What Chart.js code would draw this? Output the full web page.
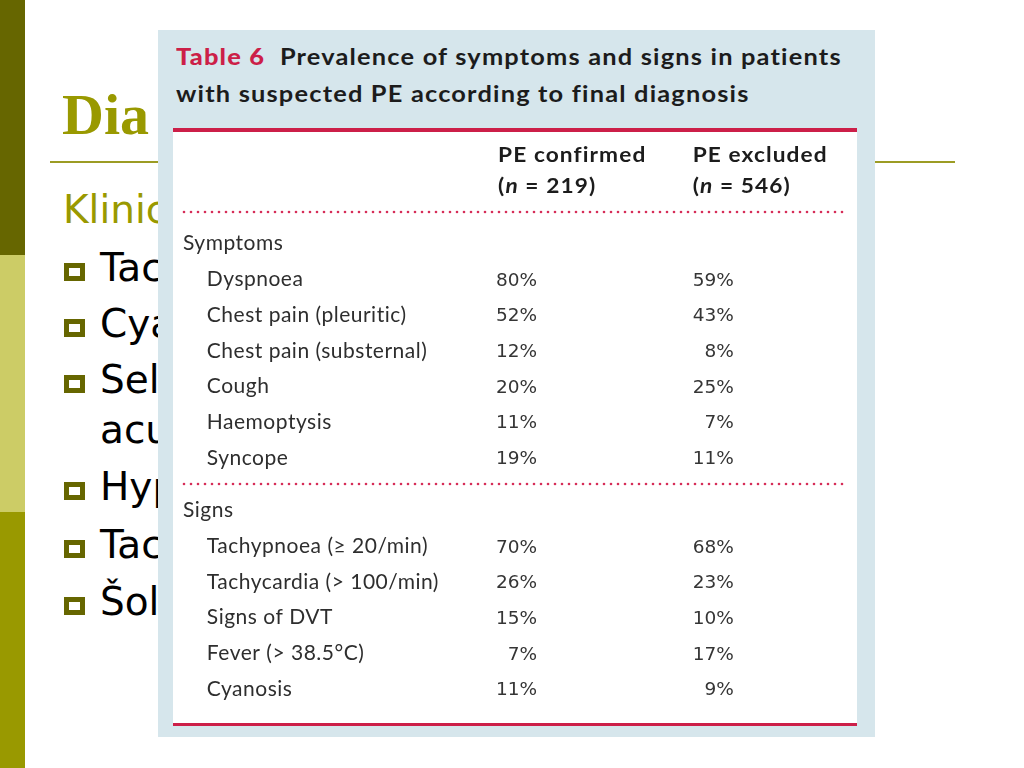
<!DOCTYPE html>
<html>
<head>
<meta charset="utf-8">
<script src="https://cdn.jsdelivr.net/npm/chart.js@4.4.0/dist/chart.umd.min.js"></script>
<style>
  body { margin: 0; width: 1024px; height: 768px; position: relative; overflow: hidden; background: #fff; }
  .abs { position: absolute; }
  #slideText { position: absolute; left: 0; top: 0; width: 158px; height: 768px; overflow: hidden; z-index: 1; }
  .bul { position: absolute; left: 100px; font: 39px "DejaVu Sans"; line-height: 39px; color: #000; white-space: nowrap; }
  .sq { position: absolute; left: 64px; width: 21px; height: 18px; border: 5px solid #666600; box-sizing: border-box; }
  #box { left: 158px; top: 30px; width: 717px; height: 707px; background: #d6e6ec; z-index: 2; }
  .ttl { position: absolute; left: 176px; font: bold 23.5px Lato; line-height: 23.5px; color: #1c1c1c; white-space: nowrap;
         letter-spacing: 1.1px; transform: scaleX(1.08); transform-origin: 0 0; z-index: 3; }
  .ttl b { color: #cc1f48; }
  #panel { left: 173px; top: 128px; width: 684px; height: 598px; background: #fff; box-sizing: border-box;
           border-top: 4px solid #cc1f48; border-bottom: 3px solid #cc1f48; z-index: 3; }
  canvas { position: absolute; left: 173px; z-index: 4; }
</style>
</head>
<body>
<div class="abs" style="left:0;top:0;width:25px;height:255px;background:#666600"></div>
<div class="abs" style="left:0;top:255px;width:25px;height:257px;background:#cccc66"></div>
<div class="abs" style="left:0;top:512px;width:25px;height:256px;background:#999900"></div>
<div class="abs" style="left:50px;top:161px;width:905px;height:2px;background:#9c9c24"></div>

<div id="slideText">
  <div class="abs" style="left:62px;top:86px;font:bold 58px 'Liberation Serif';line-height:58px;color:#999900;white-space:nowrap">Dia</div>
  <div class="abs" style="left:63px;top:190px;font:39px 'DejaVu Sans';line-height:39px;color:#999900;white-space:nowrap">Klinic</div>
  <div class="sq" style="top:263px"></div><div class="bul" style="top:248px">Tac</div>
  <div class="sq" style="top:319px"></div><div class="bul" style="top:304px">Cya</div>
  <div class="sq" style="top:375px"></div><div class="bul" style="top:360px">Sel</div>
  <div class="bul" style="top:410px">acu</div>
  <div class="sq" style="top:482px"></div><div class="bul" style="top:467px">Hyp</div>
  <div class="sq" style="top:540px"></div><div class="bul" style="top:525px">Tac</div>
  <div class="sq" style="top:597px"></div><div class="bul" style="top:582px">Šol</div>
</div>

<div id="box" class="abs"></div>
<div class="ttl" style="top:45px"><b>Table 6</b>&nbsp; Prevalence of symptoms and signs in patients</div>
<div class="ttl" style="top:82px">with suspected PE according to final diagnosis</div>
<div id="panel" class="abs"></div>

<canvas id="symptoms" width="684" height="344" style="top:132px;width:684px;height:344px"></canvas>
<canvas id="signs" width="684" height="247" style="top:476px;width:684px;height:247px"></canvas>

<script>
// table content
const columnTitles = ['PE confirmed', 'PE excluded'];
const groupSizes = [219, 546];

const symptomRows = ['Dyspnoea', 'Chest pain (pleuritic)', 'Chest pain (substernal)', 'Cough', 'Haemoptysis', 'Syncope'];
const symptomConfirmed = [80, 52, 12, 20, 11, 19];
const symptomExcluded = [59, 43, 8, 25, 7, 11];

const signRows = ['Tachypnoea (\u2265 20/min)', 'Tachycardia (> 100/min)', 'Signs of DVT', 'Fever (> 38.5\u00b0C)', 'Cyanosis'];
const signConfirmed = [70, 26, 15, 7, 11];
const signExcluded = [68, 23, 10, 17, 9];

// where the columns sit on the 0..1 x axis
const labelIndent = 0.036;
const colLeft = [0.476, 0.770];
const colRight = [0.535, 0.832];

const INK = '#2e2e2e';

function dottedRule(ctx, x0, x1, y) {
    ctx.fillStyle = '#d62d58';
    for (let px = x0 + 1; px <= x1; px += 7) {
        ctx.beginPath();
        ctx.arc(px, y, 1.3, 0, Math.PI * 2);
        ctx.fill();
    }
}

// bold header text is drawn a little stretched, like the printed table
function wideText(ctx, text, x, y, font) {
    ctx.save();
    ctx.font = font;
    ctx.letterSpacing = '1px';
    ctx.translate(x, y);
    ctx.scale(1.08, 1);
    ctx.fillText(text, 0, 0);
    const w = ctx.measureText(text).width * 1.08;
    ctx.restore();
    return w;
}

const tableText = {
    id: 'tableText',
    afterDatasetsDraw(chart, args, opts) {
        const { ctx, chartArea } = chart;
        const x = chart.scales.x, y = chart.scales.y;
        ctx.save();
        ctx.textBaseline = 'alphabetic';
        ctx.textAlign = 'left';

        if (opts.header) {
            ctx.fillStyle = '#1c1c1c';
            columnTitles.forEach((t, c) => {
                const px = x.getPixelForValue(colLeft[c]);
                wideText(ctx, t, px, chartArea.top - 63, 'bold 21px Lato');
                let cx = px;
                cx += wideText(ctx, '(', cx, chartArea.top - 32, 'bold 21px Lato');
                cx += wideText(ctx, 'n', cx, chartArea.top - 32, 'italic bold 21px Lato');
                wideText(ctx, ' = ' + groupSizes[c] + ')', cx, chartArea.top - 32, 'bold 21px Lato');
            });
        }
        dottedRule(ctx, chartArea.left, chartArea.right, chartArea.top - opts.ruleGap);

        ctx.fillStyle = INK;
        ctx.font = '21px Lato';
        ctx.letterSpacing = '0.5px';
        y.getLabels().forEach((lab, i) => {
            const px = i === 0 ? chartArea.left : x.getPixelForValue(labelIndent);
            ctx.fillText(lab, px, y.getPixelForValue(i) + 7.5);
        });

        ctx.font = '18.5px "DejaVu Sans"';
        ctx.letterSpacing = '0px';
        ctx.textAlign = 'right';
        ctx.fillStyle = '#353535';
        chart.data.datasets.forEach((ds, d) => {
            chart.getDatasetMeta(d).data.forEach((pt, i) => {
                ctx.fillText(ds.values[i] + '%', pt.x, pt.y + 7);
            });
        });
        ctx.restore();
    }
};

function tableBlock(id, heading, rows, confirmed, excluded, padding, textOpts) {
    const labels = [heading].concat(rows);
    return new Chart(document.getElementById(id), {
        type: 'scatter',
        data: {
            labels: labels,
            datasets: [
                { label: columnTitles[0], values: confirmed, data: confirmed.map((v, i) => ({ x: colRight[0], y: rows[i] })), pointRadius: 0 },
                { label: columnTitles[1], values: excluded, data: excluded.map((v, i) => ({ x: colRight[1], y: rows[i] })), pointRadius: 0 }
            ]
        },
        options: {
            responsive: false,
            animation: false,
            events: [],
            layout: { padding: padding },
            plugins: { legend: { display: false }, tooltip: { enabled: false }, tableText: textOpts },
            scales: {
                x: { type: 'linear', min: 0, max: 1, display: false },
                y: { type: 'category', labels: labels, offset: true, display: false }
            }
        },
        plugins: [tableText]
    });
}

tableBlock('symptoms', 'Symptoms', symptomRows, symptomConfirmed, symptomExcluded,
    { left: 10, right: 12, top: 93, bottom: 1 }, { header: true, ruleGap: 13 });
tableBlock('signs', 'Signs', signRows, signConfirmed, signExcluded,
    { left: 10, right: 12, top: 16, bottom: 17 }, { header: false, ruleGap: 8 });
</script>
</body>
</html>
